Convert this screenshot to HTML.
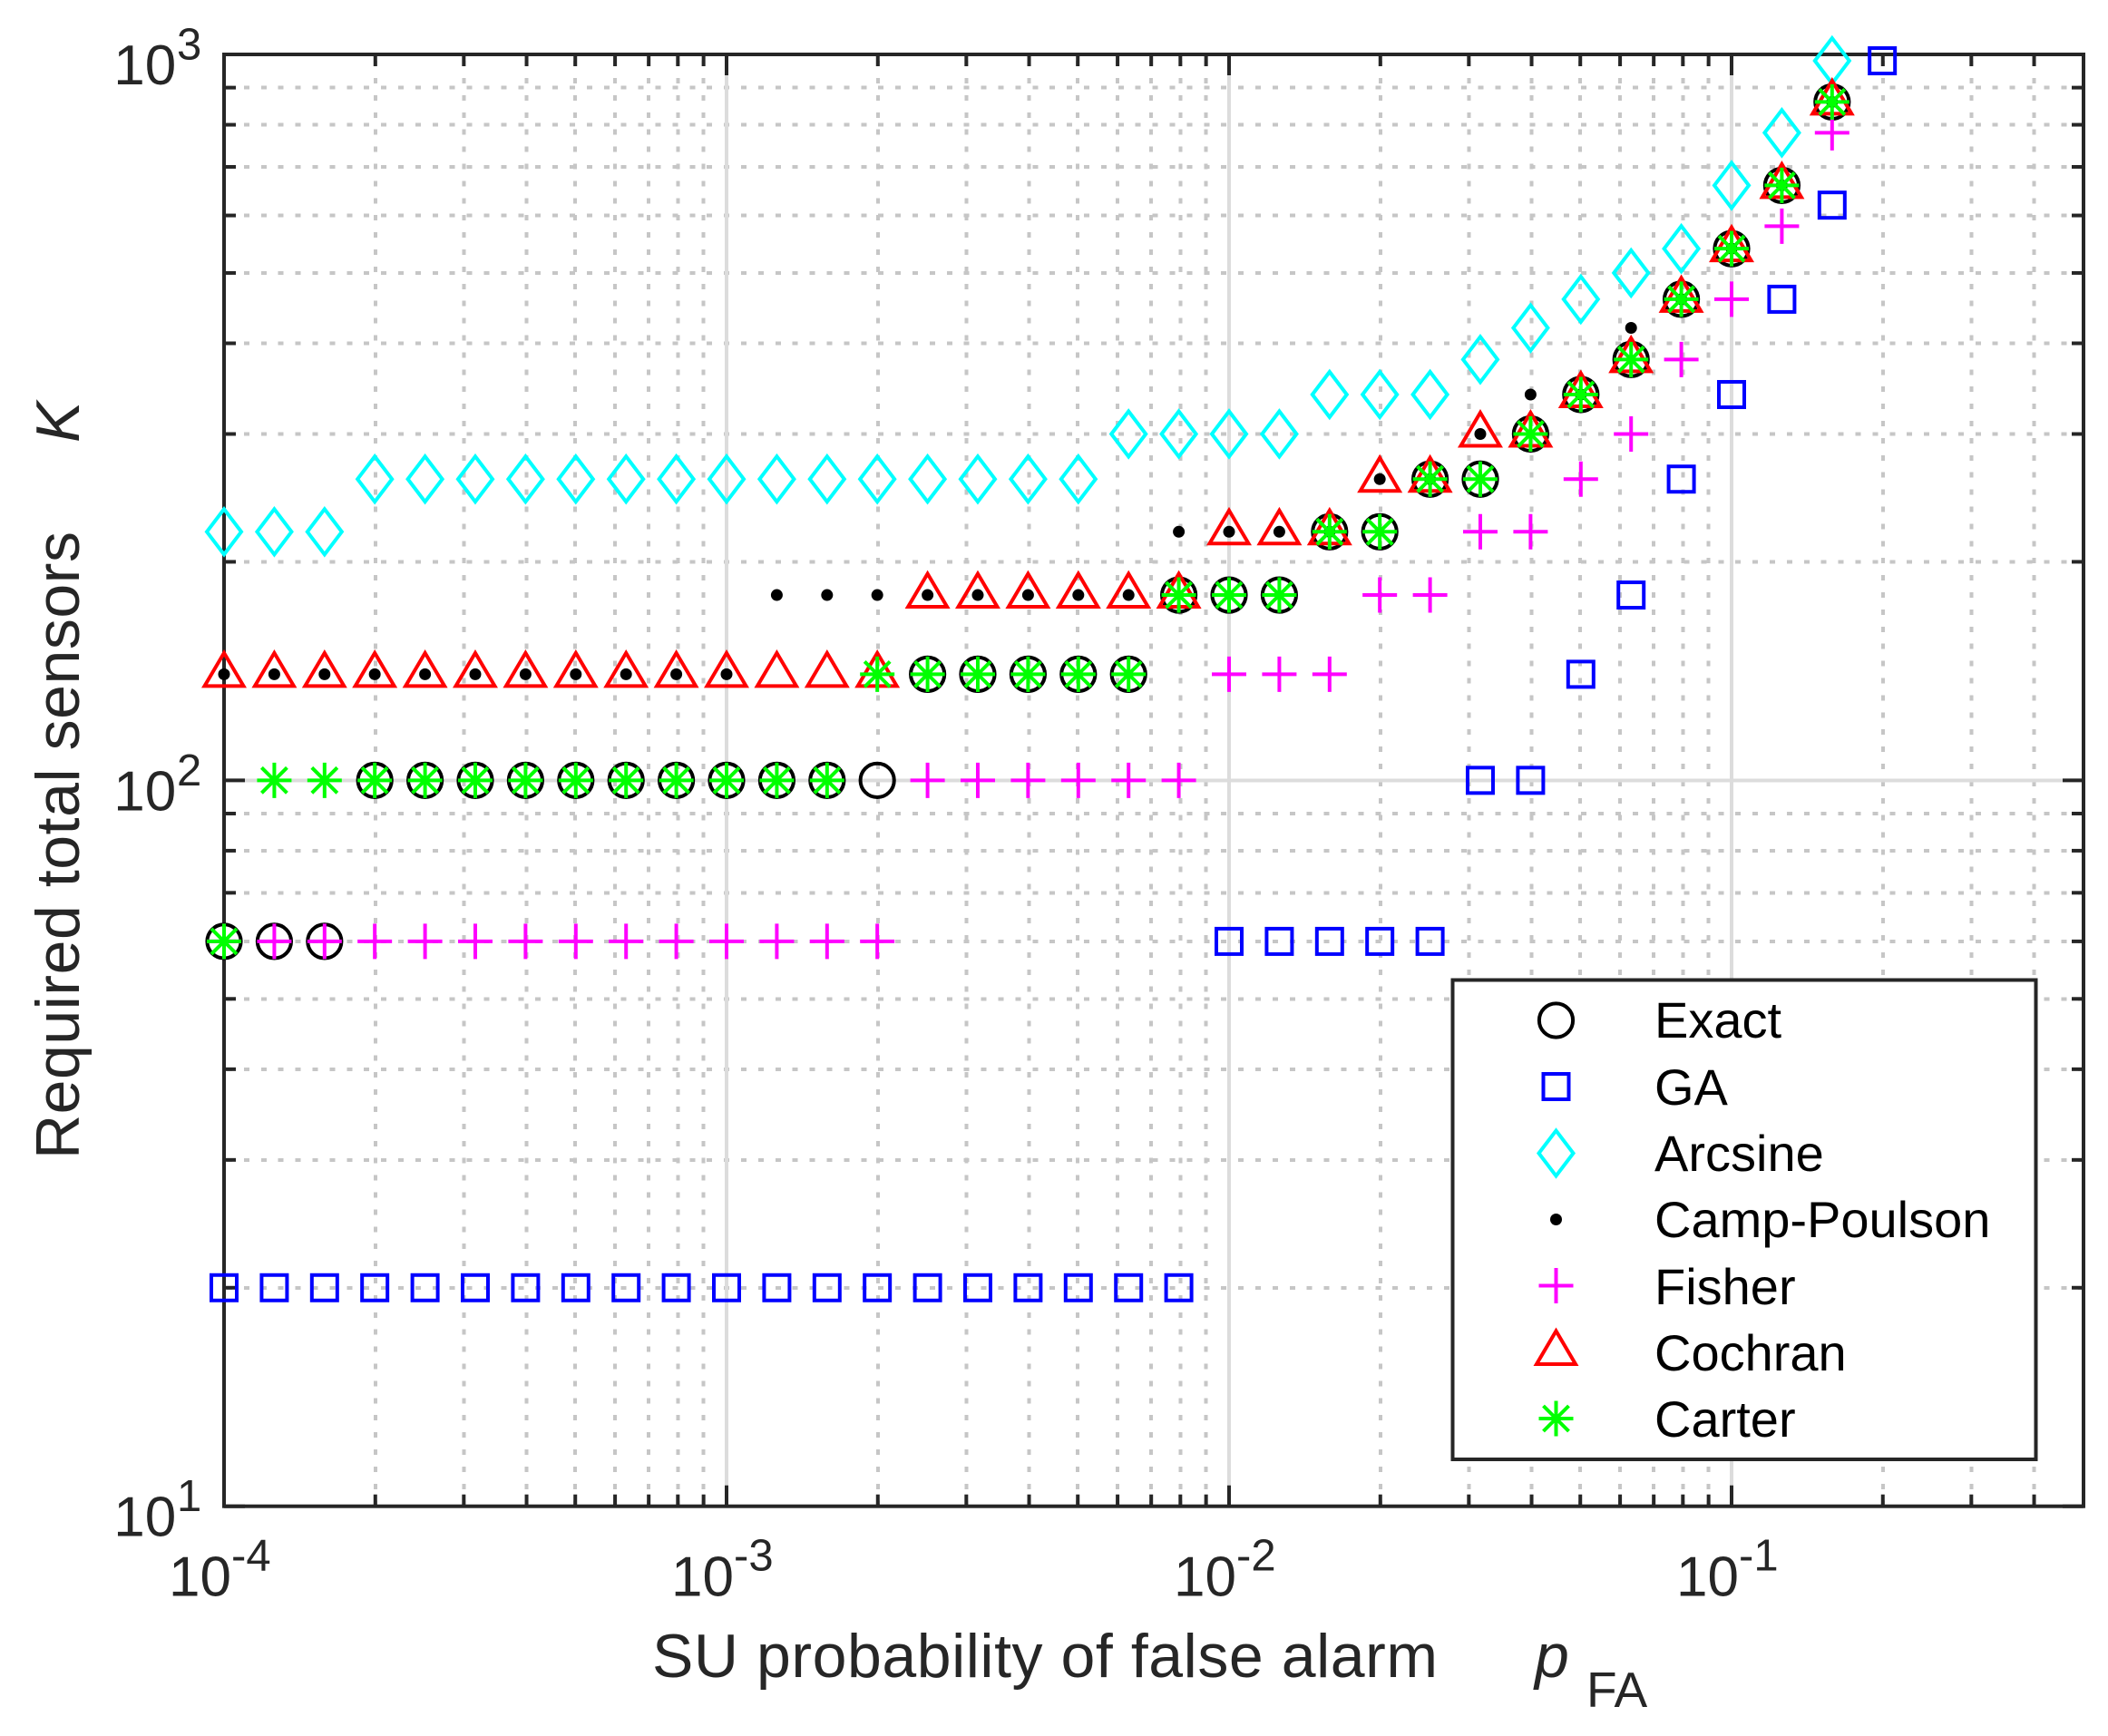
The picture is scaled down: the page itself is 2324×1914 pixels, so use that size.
<!DOCTYPE html>
<html lang="en">
<head>
<meta charset="utf-8">
<title>Required total sensors vs SU probability of false alarm</title>
<style>
html,body{margin:0;padding:0;background:#fff;}
svg{display:block;}
text{font-family:"Liberation Sans",sans-serif;}
</style>
</head>
<body>
<svg id="chart" xmlns="http://www.w3.org/2000/svg" width="2324" height="1914" viewBox="0 0 2324 1914">
  <rect x="0" y="0" width="2324" height="1914" fill="#ffffff"/>
  <g id="grid" shape-rendering="crispEdges"></g>
  <g id="ticks"></g>
  <rect x="247" y="60" width="2050" height="1600.7" fill="none" stroke="#262626" stroke-width="4"/>
  <g id="tick-labels" fill="#262626"></g>
  <g id="series"></g>
  <text x="719" y="1849" font-size="68" fill="#262626" textLength="866" lengthAdjust="spacing">SU probability of false alarm</text>
  <text x="1692" y="1849" font-size="68" font-style="italic" fill="#262626">p</text>
  <text x="1749" y="1882" font-size="55" fill="#262626">FA</text>
  <text transform="translate(87 1278) rotate(-90)" font-size="68" fill="#262626" textLength="692" lengthAdjust="spacing">Required total sensors</text>
  <text transform="translate(87 488) rotate(-90)" font-size="68" font-style="italic" fill="#262626">K</text>
  <g id="legend">
    <rect x="1601.5" y="1080.5" width="643" height="528.5" fill="#ffffff" stroke="#262626" stroke-width="4"/>
    <g id="legend-markers"></g>
    <g font-size="56" fill="#000000">
      <text x="1824" y="1144">Exact</text>
      <text x="1824" y="1218">GA</text>
      <text x="1824" y="1291">Arcsine</text>
      <text x="1824" y="1364">Camp-Poulson</text>
      <text x="1824" y="1438">Fisher</text>
      <text x="1824" y="1511">Cochran</text>
      <text x="1824" y="1584">Carter</text>
    </g>
  </g>
</svg>
<script>
const pFA = [
  1e-4,1.259e-4,1.585e-4,1.995e-4,2.512e-4,3.162e-4,3.981e-4,5.012e-4,6.310e-4,7.943e-4,
  1e-3,1.259e-3,1.585e-3,1.995e-3,2.512e-3,3.162e-3,3.981e-3,5.012e-3,6.310e-3,7.943e-3,
  1e-2,1.259e-2,1.585e-2,1.995e-2,2.512e-2,3.162e-2,3.981e-2,5.012e-2,6.310e-2,7.943e-2,
  1e-1,1.259e-1,1.585e-1,1.995e-1
];
const exact = [60,60,60,100,100,100,100,100,100,100,100,100,100,100,140,140,140,140,140,180,180,180,220,220,260,260,300,340,380,460,540,660,860,null];
const ga = [20,20,20,20,20,20,20,20,20,20,20,20,20,20,20,20,20,20,20,20,60,60,60,60,60,100,100,140,180,260,340,460,620,980];
const arcsine = [220,220,220,260,260,260,260,260,260,260,260,260,260,260,260,260,260,260,300,300,300,300,340,340,340,380,420,460,500,540,660,780,980,null];
const campPoulson = [140,140,140,140,140,140,140,140,140,140,140,180,180,180,180,180,180,180,180,220,220,220,220,260,260,300,340,340,420,460,540,660,860,null];
const fisher = [60,60,60,60,60,60,60,60,60,60,60,60,60,60,100,100,100,100,100,100,140,140,140,180,180,220,220,260,300,380,460,580,780,null];
const cochran = [140,140,140,140,140,140,140,140,140,140,140,140,140,140,180,180,180,180,180,180,220,220,220,260,260,300,300,340,380,460,540,660,860,null];
const carter = [60,100,100,100,100,100,100,100,100,100,100,100,100,140,140,140,140,140,140,180,180,180,220,220,260,260,300,340,380,460,540,660,860,null];

const xMajorTicks = [1e-4,1e-3,1e-2,1e-1];
const xMajorLabels = ["-4","-3","-2","-1"];
const xMinorTicks = [2e-4,3e-4,4e-4,5e-4,6e-4,7e-4,8e-4,9e-4,2e-3,3e-3,4e-3,5e-3,6e-3,7e-3,8e-3,9e-3,2e-2,3e-2,4e-2,5e-2,6e-2,7e-2,8e-2,9e-2,2e-1,3e-1,4e-1];
const yMajorTicks = [10,100,1000];
const yMajorLabels = ["1","2","3"];
const yMinorTicks = [20,30,40,50,60,70,80,90,200,300,400,500,600,700,800,900];

const SVGNS = "http://www.w3.org/2000/svg";
const LEFT = 247, RIGHT = 2297, TOP = 60, BOTTOM = 1660.7;
const X_DECADE = 554, Y_DECADE = 800.35;
function xScale(v){ return LEFT + (Math.log10(v) + 4) * X_DECADE; }
function yScale(v){ return BOTTOM - (Math.log10(v) - 1) * Y_DECADE; }

function node(tag, parent, attrs){
  const el = document.createElementNS(SVGNS, tag);
  for (const k in attrs) el.setAttribute(k, attrs[k]);
  parent.appendChild(el);
  return el;
}

const gridG = document.getElementById("grid");
const ticksG = document.getElementById("ticks");
const labelsG = document.getElementById("tick-labels");

function line(parent, x1, y1, x2, y2, stroke, sw, dash){
  const a = {x1:x1,y1:y1,x2:x2,y2:y2,stroke:stroke,"stroke-width":sw};
  if (dash) a["stroke-dasharray"] = dash;
  return node("line", parent, a);
}

xMinorTicks.forEach(function(t){
  const l = line(gridG, xScale(t), BOTTOM, xScale(t), TOP, "#c6c6c6", 4, "6 12.9");
  
  
});
yMinorTicks.forEach(function(t){
  const l = line(gridG, 250, yScale(t), RIGHT, yScale(t), "#c6c6c6", 4, "6 12.9");
  
  
});
xMajorTicks.slice(1).forEach(function(t){
  const l = line(gridG, xScale(t), BOTTOM, xScale(t), TOP, "#dcdcdc", 4);
  
  
});
yMajorTicks.slice(1,2).forEach(function(t){
  const l = line(gridG, LEFT, yScale(t), RIGHT, yScale(t), "#dcdcdc", 4);
  
  
});

function xTick(t, len){
  const x = xScale(t);
  const a = line(ticksG, x, BOTTOM, x, BOTTOM - len, "#262626", 4);
  
  
  const b = line(ticksG, x, TOP, x, TOP + len, "#262626", 4);
  
  
}
function yTick(t, len){
  const y = yScale(t);
  const a = line(ticksG, LEFT, y, LEFT + len, y, "#262626", 4);
  
  
  const b = line(ticksG, RIGHT, y, RIGHT - len, y, "#262626", 4);
  
  
}
xMinorTicks.forEach(function(t){ xTick(t, 13); });
xMajorTicks.forEach(function(t){ xTick(t, 23); });
yMinorTicks.forEach(function(t){ yTick(t, 13); });
yMajorTicks.forEach(function(t){ yTick(t, 23); });

function tickText(parent, x, y, size, str){
  const t = node("text", parent, {x:x, y:y, "font-size":size});
  t.textContent = str;
  return t;
}
xMajorTicks.forEach(function(t, i){
  const x = xScale(t);
  const base = tickText(labelsG, x - 61, 1759.5, 62, "10");
  
  
  const sup = tickText(labelsG, x + 8, 1731.5, 49, xMajorLabels[i]);
  
  
});
yMajorTicks.forEach(function(t, i){
  const y = yScale(t);
  const base = tickText(labelsG, 125.3, y + 33, 62, "10");
  
  
  const sup = tickText(labelsG, 195, y + 5.5, 49, yMajorLabels[i]);
  
  
});

const SW = 4;
function drawCircle(p, x, y){ return node("circle", p, {cx:x, cy:y, r:18.6, fill:"none", stroke:"#000000", "stroke-width":SW}); }
function drawSquare(p, x, y){ return node("rect", p, {x:x-14, y:y-14, width:28, height:28, fill:"none", stroke:"#0000ff", "stroke-width":SW}); }
function drawDiamond(p, x, y){ return node("polygon", p, {points:(x-19)+","+y+" "+x+","+(y-25)+" "+(x+19)+","+y+" "+x+","+(y+25), fill:"none", stroke:"#00ffff", "stroke-width":SW}); }
function drawDot(p, x, y){ return node("circle", p, {cx:x, cy:y, r:6.5, fill:"#000000"}); }
function drawPlus(p, x, y){ return node("path", p, {d:"M"+(x-19)+" "+y+"H"+(x+19)+"M"+x+" "+(y-19.5)+"V"+(y+19.5), fill:"none", stroke:"#ff00ff", "stroke-width":SW}); }
function drawTriangle(p, x, y){ return node("polygon", p, {points:(x-21.5)+","+(y+13)+" "+x+","+(y-23.5)+" "+(x+21.5)+","+(y+13), fill:"none", stroke:"#ff0000", "stroke-width":SW}); }
function drawStar(p, x, y){ return node("path", p, {d:"M"+(x-19)+" "+y+"H"+(x+19)+"M"+x+" "+(y-19.5)+"V"+(y+19.5)+"M"+(x-14)+" "+(y-14)+"L"+(x+14)+" "+(y+14)+"M"+(x-14)+" "+(y+14)+"L"+(x+14)+" "+(y-14), fill:"none", stroke:"#00ff00", "stroke-width":SW}); }

const seriesG = document.getElementById("series");
function drawSeries(name, values, draw){
  const g = node("g", seriesG, {});
  
  
  values.forEach(function(v, i){
    if (v === null) return;
    const m = draw(g, xScale(pFA[i]), yScale(v));
    
    
  });
}
drawSeries('exact', exact, drawCircle);
drawSeries('ga', ga, drawSquare);
drawSeries('arcsine', arcsine, drawDiamond);
drawSeries('camp-poulson', campPoulson, drawDot);
drawSeries('fisher', fisher, drawPlus);
drawSeries('cochran', cochran, drawTriangle);
drawSeries('carter', carter, drawStar);

const legendG = document.getElementById("legend-markers");
const LEG_X = 1715.5;
const lm1 = drawCircle(legendG, LEG_X, 1125);


const lm2 = drawSquare(legendG, LEG_X, 1198);


const lm3 = drawDiamond(legendG, LEG_X, 1271.5);


const lm4 = drawDot(legendG, LEG_X, 1344.5);


const lm5 = drawPlus(legendG, LEG_X, 1417.5);


const lm6 = drawTriangle(legendG, LEG_X, 1491);


const lm7 = drawStar(legendG, LEG_X, 1564);


</script>
</body>
</html>
